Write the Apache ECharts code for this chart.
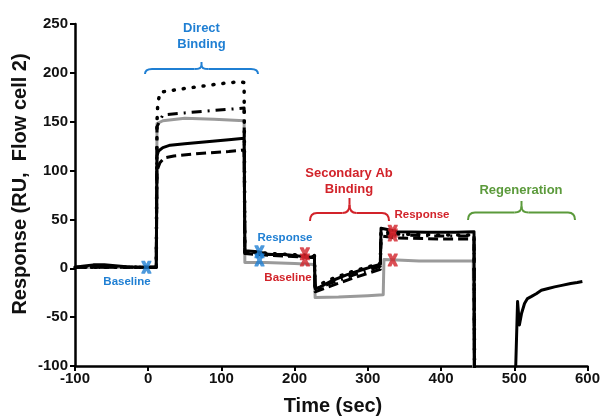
<!DOCTYPE html>
<html><head><meta charset="utf-8">
<script src="https://cdn.jsdelivr.net/npm/echarts@6/dist/echarts.min.js"></script>
<style>html,body{margin:0;padding:0;background:#fff}#c{width:603px;height:416px}</style>
</head><body><div id="c"></div>
<script>
// Axis ticks
const xTicks = [-100, 0, 100, 200, 300, 400, 500, 600];
const yTicks = [-100, -50, 0, 50, 100, 150, 200, 250];

// Sensorgram traces [time (s), response (RU)]
const solidTrace = [[-100,1],[-90,2],[-75,3.5],[-60,3.5],[-45,2.5],[-30,1.5],[-15,1],[0,1],[11,1],
  [12,115],[14,120],[20,123.5],[30,126],[50,127.5],[80,129.5],[110,131.5],[131,133],
  [132,18],[150,17],[165,14],[185,14],[205,12.5],[227,11],
  [228,-21],[235,-19],[250,-13],[270,-7],[290,-2],[305,1.5],[317,4],
  [318,41],[325,40],[340,37.5],[380,37],[420,37],[445,37.5],
  [446,-160],[500,-160],[502,-100],[504.5,-34],[507,-58],[510,-46],[514,-36],[518,-31],[523,-29],
  [530,-26],[537,-22.5],[545,-21],[555,-19],[565,-17.5],[577,-15.5],[586,-14.5],[593,-13.5]];
const grayTrace = [[-100,1],[11,1],[12,148],[20,151],[50,153.5],[90,152.5],[131,151],
  [132,6],[160,6],[200,5],[227,4],[228,-30],[260,-29.5],[300,-28],[321,-27],
  [322,9],[340,8.5],[370,7.5],[410,7.5],[444,7.5],[445,-160]];
const dottedTrace = [[-100,1],[11,1],[12,150],[13,168],[16,180],[40,183],[70,186],[100,189],[125,191],[131,190],
  [132,17],[170,15],[227,13],[228,-19],[250,-11],[280,-3],[317,5],
  [318,38],[340,35],[400,34],[445,34],[446,-160]];
const dashDotTrace = [[-100,1],[11,1],[12,145],[20,157],[50,159],[90,161.5],[131,164],
  [132,16],[170,14],[227,12],[228,-22],[250,-15],[280,-7],[317,2],
  [318,36],[340,34],[400,33],[445,33],[446,-160]];
const dashedTrace = [[-100,1],[11,1],[12,100],[16,108],[22,113],[35,115],[70,117.5],[110,119.5],[131,121],
  [132,15],[170,13],[227,11],[228,-24],[250,-18],[280,-10],[317,-1],
  [318,33],[340,31],[400,30],[445,30],[446,-160]];

// Report points
const blueMarks = [[-2.5,1],[152,17],[152,8.5]];
const redMarks = [[214,15],[214,8.5],[334,38],[334,34],[334,8.5]];

// Annotation texts
const directLabel = 'Direct\nBinding';
const secondaryLabel = 'Secondary Ab\nBinding';
const regenLabel = 'Regeneration';

const BLUE = '#1f7fd3', RED = '#d2232a', GREEN = '#5b9a3b';
const FONT = '"Liberation Sans", Arial, sans-serif';
const xMark = 'path://M0,0 L3.6,0 L5,2.3 L6.4,0 L10,0 L10,1 L7.2,5 L10,9 L10,10 L6.4,10 L5,7.7 L3.6,10 L0,10 L0,9 L2.8,5 L0,1 Z';

function lineSeries(name, data, style, z) {
  return { name, type: 'line', data, showSymbol: false, symbol: 'none', clip: true, z,
    lineStyle: Object.assign({ width: 3, color: '#000', join: 'round' }, style), animation: false };
}

function brace(x1, x2, yEnd, yH, yTop, color) {
  const xm = (x1 + x2) / 2, r = 7, st = { stroke: color, lineWidth: 2, fill: null };
  const yMid = yH - (yH - yTop) * 0.55;
  const q = (a, b, c, d, e, f) => ({ type: 'bezierCurve', shape: { x1: a, y1: b, cpx1: c, cpy1: d, x2: e, y2: f }, style: st, z: 10 });
  const l = (a, b, c, d) => ({ type: 'line', shape: { x1: a, y1: b, x2: c, y2: d }, style: st, z: 10 });
  return [
    q(x1, yEnd, x1, yH, x1 + r, yH),
    l(x1 + r, yH, xm - r, yH),
    q(xm - r, yH, xm, yH, xm, yMid),
    q(xm, yMid, xm, yH, xm + r, yH),
    l(xm, yMid, xm, yTop),
    l(xm + r, yH, x2 - r, yH),
    q(x2 - r, yH, x2, yH, x2, yEnd)
  ];
}

const chart = echarts.init(document.getElementById('c'), null, { renderer: 'canvas' });
const axisCommon = {
  axisLine: { show: true, onZero: false, lineStyle: { color: '#000', width: 2.5 } },
  axisTick: { show: true, inside: false, length: 5, lineStyle: { color: '#000', width: 2 } },
  splitLine: { show: false },
  axisLabel: { color: '#111', fontFamily: FONT, fontWeight: 'bold', fontSize: 15 }
};
const txt = (x, y, text, size, color, extra) => ({ type: 'text', x, y, z: 10,
  style: Object.assign({ text, font: 'bold ' + size + 'px ' + FONT, fill: color, align: 'center', verticalAlign: 'middle' }, extra || {}) });

chart.setOption({
  animation: false,
  grid: { left: 75, right: 13, top: 24, bottom: 50, containLabel: false },
  xAxis: Object.assign({ type: 'value', min: xTicks[0], max: xTicks[xTicks.length - 1], interval: 100 }, axisCommon,
    { axisLabel: Object.assign({}, axisCommon.axisLabel, { margin: 5 }) }),
  yAxis: Object.assign({ type: 'value', min: yTicks[0], max: yTicks[yTicks.length - 1], interval: 50 }, axisCommon,
    { axisLabel: Object.assign({}, axisCommon.axisLabel, { margin: 7 }) }),
  series: [
    lineSeries('gray', grayTrace, { color: '#9a9a9a' }, 2),
    lineSeries('dashed', dashedTrace, { type: [10, 5] }, 3),
    lineSeries('dashdot', dashDotTrace, { type: [10, 6, 2, 6] }, 3),
    lineSeries('dotted', dottedTrace, { type: [1, 9], cap: 'round', width: 3.5 }, 3),
    lineSeries('solid', solidTrace, { width: 3 }, 4),
    { type: 'scatter', data: blueMarks, symbol: xMark, symbolSize: [10, 13], z: 6,
      itemStyle: { color: BLUE }, animation: false },
    { type: 'scatter', data: redMarks, symbol: xMark, symbolSize: [10, 13], z: 6,
      itemStyle: { color: RED }, animation: false }
  ],
  graphic: [
    Object.assign(txt(20, 184, 'Response (RU,  Flow cell 2)', 20, '#111'), { rotation: Math.PI / 2 }),
    txt(333, 406, 'Time (sec)', 20, '#111'),
    txt(201.5, 36, directLabel, 13, BLUE, { lineHeight: 16 }),
    txt(349, 181, secondaryLabel, 13, RED, { lineHeight: 16 }),
    txt(521, 190, regenLabel, 13, GREEN),
    txt(285, 238, 'Response', 11.5, BLUE),
    txt(127, 282, 'Baseline', 11.5, BLUE),
    txt(288, 278, 'Baseline', 11.5, RED),
    txt(422, 215, 'Response', 11.5, RED)
  ].concat(
    brace(145, 258, 74, 69, 62, BLUE),
    brace(310, 389, 221, 213, 198, RED),
    brace(468, 575, 220, 212.5, 201, GREEN)
  )
});
</script></body></html>
